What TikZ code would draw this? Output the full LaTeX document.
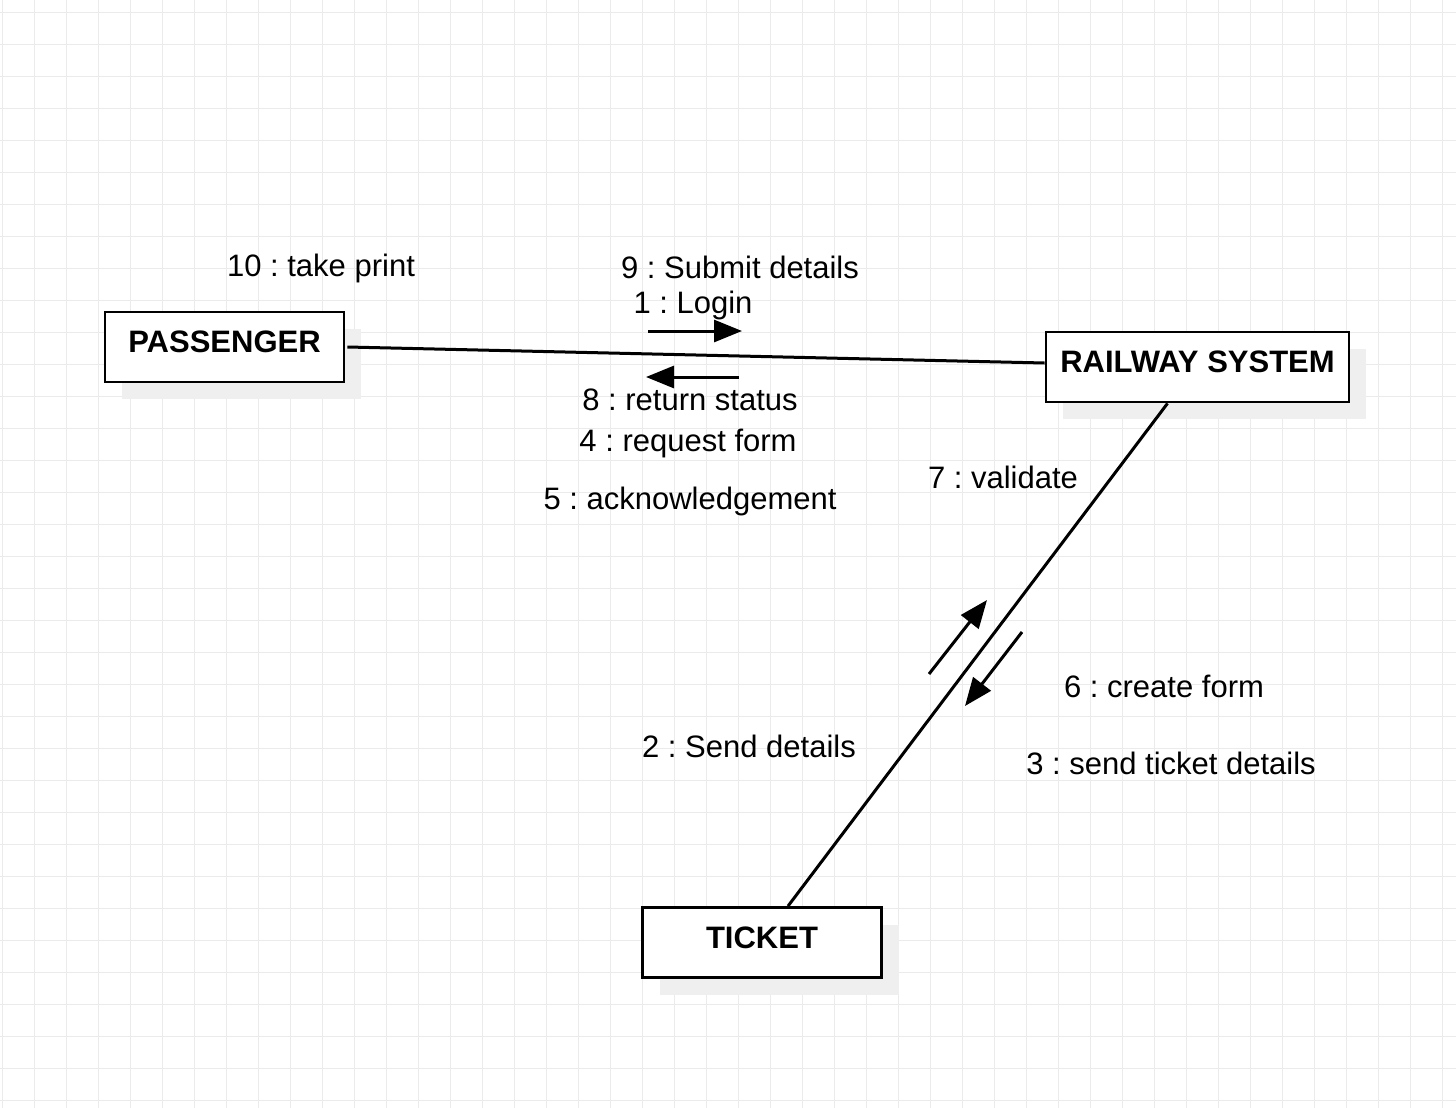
\documentclass[tikz,border=0pt]{standalone}
\usepackage{fontspec}
\setmainfont{Liberation Sans}
\usetikzlibrary{arrows.meta,shadows}
\definecolor{gridc}{HTML}{EBEBEB}
\definecolor{shadowc}{HTML}{EFEFEF}
\frenchspacing
\begin{document}
\begin{tikzpicture}[x=0.5pt,y=-0.5pt,
  gridline/.style={draw=gridc,line width=0.5pt},
  objbox/.style={draw=black,fill=white,line width=1.4pt,minimum height=35pt,
    font=\fontsize{15.5pt}{18pt}\selectfont\bfseries,text height=11pt,text depth=5.2pt,
    drop shadow={shadow xshift=8.5pt,shadow yshift=-8.5pt,fill=shadowc,opacity=1}},
  conn/.style={line width=1.5pt},
  msgarrow/.style={line width=1.5pt,-{Triangle[length=14pt,width=11pt]}},
  msg/.style={font=\fontsize{15.5pt}{18pt}\selectfont,anchor=base,inner sep=0pt}]
\useasboundingbox (0,0) rectangle (1456,1108);
\fill[white] (0,0) rectangle (1456,1108);
\foreach \x in {2,34,...,1456} \draw[gridline] (\x,0) -- (\x,1108);
\foreach \y in {12,44,...,1108} \draw[gridline] (0,\y) -- (1456,\y);
% objects
\node[objbox,minimum width=119.5pt] (p) at (224.5,347) {PASSENGER};
\node[objbox,minimum width=151.5pt] (r) at (1197.5,367) {RAILWAY SYSTEM};
\node[objbox,minimum width=119.5pt] (t) at (762,942.5) {TICKET};
% links
\draw[conn] ([xshift=1pt]p.east) -- ([yshift=2pt]r.west);
\draw[conn] ([xshift=-15pt]r.south) -- ([xshift=13pt]t.north);
% message arrows
\coordinate (a1s) at (648,331); \coordinate (a1e) at (742,331);
\coordinate (a2s) at (739,377); \coordinate (a2e) at (646,377);
\coordinate (a3s) at (929,674); \coordinate (a3e) at (987,600);
\coordinate (a4s) at (1022,632); \coordinate (a4e) at (965,706);
\draw[msgarrow] (a1s) -- (a1e);
\draw[msgarrow] (a2s) -- (a2e);
\draw[msgarrow] (a3s) -- (a3e);
\draw[msgarrow] (a4s) -- (a4e);
% labels
\node[msg] (l10) at (321,276) {10 : take print};
\node[msg] (l9) at (740,278) {9 : Submit details};
\node[msg] (l1) at (693,313) {1 : Login};
\node[msg] (l8) at (690,410) {8 : return status};
\node[msg] (l4) at (688,451) {4 : request form};
\node[msg] (l5) at (690,509) {5 : acknowledgement};
\node[msg] (l7) at (1003,488) {7 : validate};
\node[msg] (l6) at (1164,697) {6 : create form};
\node[msg] (l2) at (749,757) {2 : Send details};
\node[msg] (l3) at (1171,774) {3 : send ticket details};
\end{tikzpicture}
\end{document}
